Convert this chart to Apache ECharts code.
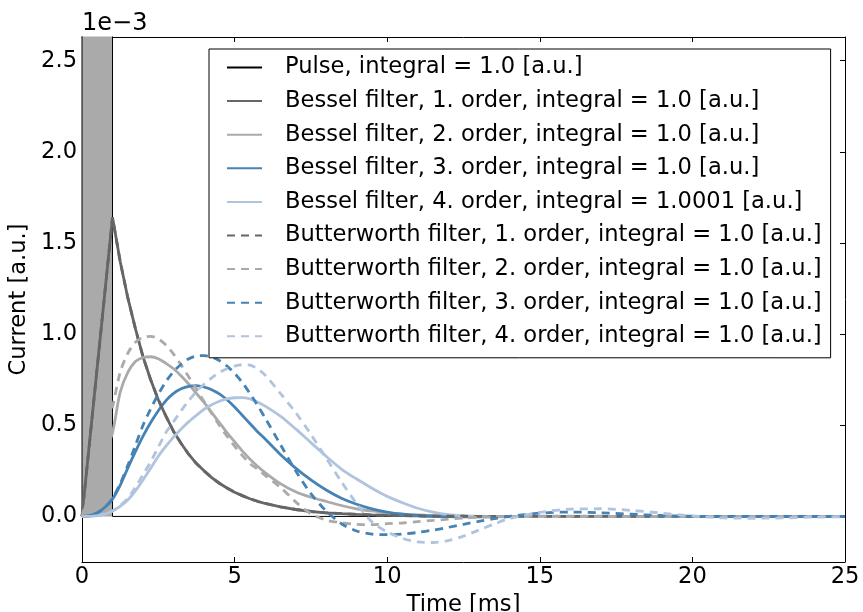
<!DOCTYPE html>
<html>
<head>
<meta charset="utf-8">
<script src="https://cdn.jsdelivr.net/npm/echarts@6/dist/echarts.min.js"></script>
<style>
html,body{margin:0;padding:0;background:#fff;}
#chart{width:863px;height:612px;}
</style>
</head>
<body>
<div id="chart"></div>
<script>
// ---- data (current in units of 1e-3 a.u., time in ms) ----
const time = [0,0.25,0.5,0.75,1,1.25,1.5,1.75,2,2.25,2.5,2.75,3,3.25,3.5,3.75,4,4.25,4.5,4.75,5,5.25,5.5,5.75,6,
  6.5,7,7.5,8,8.5,9,9.5,10,10.5,11,11.5,12,12.5,13,13.5,14,
  15,16,17,18,19,20,21,22,23,24,25];

const pulseTime  = [0, 0, 1, 1, 25];
const pulseValue = [0, 3.5, 3.5, 0, 0];

const bessel1 = [0,0.41,0.82,1.23,1.64,1.40,1.20,1.03,0.875,0.75,0.64,0.55,0.466,0.40,0.34,0.29,0.25,0.213,0.182,0.156,0.133,0.114,0.097,0.083,0.071,
  0.052,0.038,0.027,0.02,0.015,0.011,0.008,0.006,0.004,0.003,0.002,0.001,0.001,0,0,0,
  0,0,0,0,0,0,0,0,0,0,0];
const bessel2 = [0,0.115,0.23,0.345,0.46,0.68,0.79,0.85,0.872,0.876,0.865,0.84,0.81,0.77,0.725,0.675,0.625,0.57,0.515,0.46,0.41,0.36,0.315,0.275,0.24,
  0.18,0.135,0.105,0.082,0.06,0.042,0.03,0.02,0.013,0.008,0.005,0.003,0.001,0,0,0,
  0,0,0,0,0,0,0,0,0,0,0];
const bessel3 = [0,0.004,0.02,0.05,0.095,0.17,0.265,0.355,0.44,0.515,0.58,0.635,0.675,0.70,0.714,0.718,0.71,0.695,0.672,0.64,0.60,0.555,0.51,0.465,0.425,
  0.34,0.265,0.20,0.145,0.10,0.067,0.042,0.024,0.012,0.005,0.001,-0.001,-0.002,-0.002,-0.001,-0.001,
  0,0,0,0,0,0,0,0,0,0,0];
const bessel4 = [0,0,0.004,0.013,0.03,0.055,0.09,0.14,0.20,0.265,0.33,0.385,0.435,0.48,0.52,0.555,0.588,0.613,0.632,0.645,0.651,0.652,0.645,0.628,0.605,
  0.55,0.48,0.405,0.33,0.26,0.205,0.155,0.11,0.075,0.045,0.024,0.01,0.003,-0.001,-0.002,-0.002,
  -0.001,0,0,0,0,0,0,0,0,0,0];
const butter1 = bessel1.slice();
const butter2 = [0,0.15,0.30,0.45,0.60,0.79,0.895,0.955,0.982,0.988,0.975,0.94,0.89,0.83,0.765,0.70,0.63,0.565,0.50,0.44,0.385,0.335,0.29,0.26,0.225,
  0.16,0.08,0.015,-0.02,-0.035,-0.043,-0.045,-0.04,-0.036,-0.029,-0.022,-0.015,-0.009,-0.005,-0.002,0,
  0.002,0.002,0.001,0,0,0,0,0,0,0,0];
const butter3 = [0,0.003,0.018,0.05,0.10,0.18,0.28,0.39,0.50,0.59,0.67,0.74,0.795,0.835,0.865,0.88,0.882,0.875,0.855,0.825,0.785,0.735,0.675,0.61,0.54,
  0.395,0.25,0.125,0.03,-0.04,-0.08,-0.097,-0.10,-0.097,-0.088,-0.075,-0.06,-0.043,-0.027,-0.012,0,
  0.018,0.024,0.02,0.012,0.005,0.001,-0.001,-0.001,0,0,0];
const butter4 = [0,0,0.004,0.013,0.03,0.06,0.10,0.16,0.23,0.30,0.38,0.46,0.52,0.58,0.635,0.685,0.725,0.76,0.79,0.81,0.825,0.832,0.83,0.81,0.775,
  0.675,0.57,0.45,0.32,0.19,0.07,-0.03,-0.085,-0.12,-0.14,-0.143,-0.133,-0.108,-0.075,-0.042,-0.012,
  0.022,0.04,0.042,0.033,0.018,0.003,-0.008,-0.01,-0.008,-0.004,-0.002];

const names = [
  'Pulse, integral = 1.0 [a.u.]',
  'Bessel filter, 1. order, integral = 1.0 [a.u.]',
  'Bessel filter, 2. order, integral = 1.0 [a.u.]',
  'Bessel filter, 3. order, integral = 1.0 [a.u.]',
  'Bessel filter, 4. order, integral = 1.0001 [a.u.]',
  'Butterworth filter, 1. order, integral = 1.0 [a.u.]',
  'Butterworth filter, 2. order, integral = 1.0 [a.u.]',
  'Butterworth filter, 3. order, integral = 1.0 [a.u.]',
  'Butterworth filter, 4. order, integral = 1.0 [a.u.]'
];
const xTicks = [0,5,10,15,20,25];
const yTicks = [0,0.5,1.0,1.5,2.0,2.5];

// ---- chart ----
const FONT = 'DejaVu Sans';
const FS = 22.6;
const colors = ['#000000','#666666','#aaaaaa','#4682b4','#b0c4de','#666666','#aaaaaa','#4682b4','#b0c4de'];

function pairs(ts, vs){ return ts.map((t,i)=>[t, vs[i]]); }

function curve(idx, vals, dashed, smooth){
  return {
    name: names[idx], type:'line', data: pairs(time, vals),
    symbol:'none', smooth: smooth, clip:true,
    itemStyle:{color: colors[idx]},
    lineStyle:{color: colors[idx], width: 2.8, type: dashed ? [8,6] : 'solid'},
    emphasis:{disabled:true}, animation:false
  };
}

const series = [
  {
    name: names[0], type:'line', data: pairs(pulseTime, pulseValue),
    symbol:'none', clip:true,
    itemStyle:{color:'#000'},
    lineStyle:{color:'#000', width:1},
    areaStyle:{color:'#aaaaaa', opacity:1},
    emphasis:{disabled:true}, animation:false
  },
  curve(1, bessel1, false, false),
  curve(2, bessel2, false, 0.3),
  curve(3, bessel3, false, 0.3),
  curve(4, bessel4, false, 0.3),
  curve(5, butter1, true, false),
  curve(6, butter2, true, 0.3),
  curve(7, butter3, true, 0.3),
  curve(8, butter4, true, 0.3)
];

const axisLine = {show:true, onZero:false, lineStyle:{color:'#000', width:1}};
const tick = {show:true, inside:true, length:5, lineStyle:{color:'#000', width:1}};

const chart = echarts.init(document.getElementById('chart'), null, {renderer:'canvas'});
chart.setOption({
  animation:false,
  backgroundColor:'#fff',
  grid:{left:82, right:18, top:37, bottom:50, containLabel:false, outerBoundsMode:'none'},
  xAxis:[
    {type:'value', min:0, max:25, interval:5, position:'bottom',
     axisLine: axisLine, axisTick: Object.assign({customValues: xTicks}, tick), splitLine:{show:false},
     axisLabel:{customValues: xTicks, fontSize:FS, fontFamily:FONT, color:'#000', margin:4},
     name:'Time [ms]', nameLocation:'middle', nameGap:28,
     nameTextStyle:{fontSize:FS, fontFamily:FONT, color:'#000'}},
    {type:'value', min:0, max:25, interval:5, position:'top',
     axisLine: axisLine, axisTick: Object.assign({customValues: xTicks}, tick), splitLine:{show:false},
     axisLabel:{show:false}}
  ],
  yAxis:[
    {type:'value', min:-0.25, max:2.63, position:'left',
     axisLine: axisLine, axisTick: Object.assign({customValues: yTicks}, tick), splitLine:{show:false},
     axisLabel:{customValues: yTicks, fontSize:FS, fontFamily:FONT, color:'#000', margin:5,
       formatter: v => Number(v).toFixed(1)},
     name:'Current [a.u.]', nameLocation:'middle', nameGap:39,
     nameTextStyle:{fontSize:FS, fontFamily:FONT, color:'#000'}},
    {type:'value', min:-0.25, max:2.63, position:'right',
     axisLine: axisLine, axisTick: Object.assign({customValues: yTicks}, tick), splitLine:{show:false},
     axisLabel:{show:false}}
  ],
  legend:{
    show:true, orient:'vertical', left:209, top:49,
    data: names,
    itemWidth:35, itemHeight:14, itemGap:10.6,
    itemStyle:{opacity:0},
    backgroundColor:'#fff', borderColor:'#000', borderWidth:1, borderRadius:0,
    padding:[7, 9, 10, 17],
    selectedMode:false,
    textStyle:{fontSize:FS, fontFamily:FONT, color:'#000', lineHeight:22.8, padding:[0,0,0,18]}
  },
  graphic:[
    {type:'text', left:82, top:12, silent:true,
     style:{text:'1e\u22123', font:'24px "DejaVu Sans"', fill:'#000'}}
  ],
  series: series
});
</script>
</body>
</html>
